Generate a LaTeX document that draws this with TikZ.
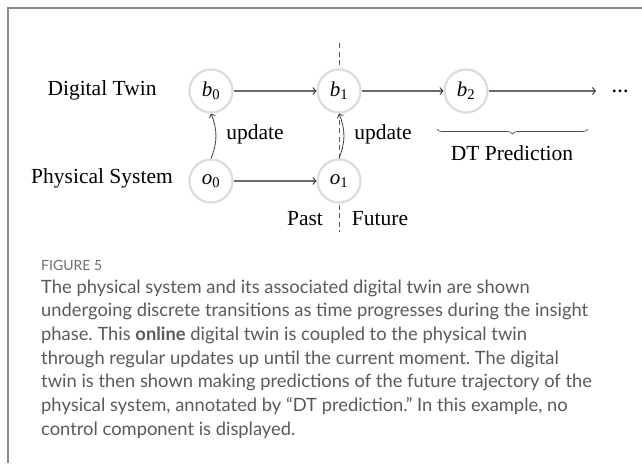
\documentclass[tikz,border=0pt]{standalone}
\usepackage{fontspec}
\setmainfont{Liberation Serif}
\newfontfamily\capfont{Lato}
\usetikzlibrary{arrows.meta,decorations.pathreplacing}
\frenchspacing

\definecolor{framegray}{HTML}{8A8A8A}
\definecolor{ringgray}{HTML}{DCDCDC}
\definecolor{edgegray}{HTML}{6A6A6A}
\definecolor{captext}{HTML}{5A5A5A}
\definecolor{caphead}{HTML}{6E6E6E}

\newcommand{\sv}[2]{\textit{#1}\textsubscript{#2}}

\tikzset{
  state/.style={circle, draw=ringgray, line width=2.2pt, fill=white,
    minimum size=43pt, inner sep=0pt, font=\fontsize{21}{24}\selectfont},
  lbl/.style={font=\fontsize{21.5}{25}\selectfont, text=black, inner sep=0pt},
  trans/.style={draw=edgegray, line width=1.1pt,
    -{Straight Barb[length=3pt,width=7pt,line width=0.9pt,color=black!80]}},
  upd/.style={draw=black!75, line width=0.8pt,
    -{Straight Barb[length=3pt,width=6.5pt]}},
  nowline/.style={draw=black!65, line width=0.7pt, dash pattern=on 5pt off 3.5pt},
  capline/.style={anchor=base west, inner sep=0pt, text=captext,
    font=\capfont\fontsize{18.35}{21}\selectfont},
}

\begin{document}
\begin{tikzpicture}[x=1pt, y=-1pt]
  \useasboundingbox (0,0) rectangle (642,463);

  % page frame: top and left rules
  \draw[framegray, line width=2pt] (7.5,463) -- (7.5,7.5) -- (642,7.5);

  % present-time divider, drawn first so the states cover it
  \coordinate (nowtop) at (339,43);
  \coordinate (nowbot) at (339,232);
  \draw[nowline] (nowtop) -- (nowbot);

  % row labels
  \node[lbl] (dtlabel) at (102,90) {Digital Twin};
  \node[lbl] (pslabel) at (102,178) {Physical System};

  % states
  \node[state] (b0) at (211,91)  {\sv{b}{0}};
  \node[state] (b1) at (339,91)  {\sv{b}{1}};
  \node[state] (b2) at (466,91)  {\sv{b}{2}};
  \node[state] (o0) at (211,181) {\sv{o}{0}};
  \node[state] (o1) at (339,181) {\sv{o}{1}};
  \node[inner sep=0pt, text=black, font=\bfseries\fontsize{17}{17}\selectfont] (dots) at (620,91) {…};
  \coordinate (predend) at (596,91);

  % transitions
  \draw[trans] (b0) -- (b1);
  \draw[trans] (b1) -- (b2);
  \draw[trans] (b2) -- (predend);
  \draw[trans] (o0) -- (o1);

  % updates from the physical system
  \draw[upd] (o0.north) to[bend right=22] (b0.south);
  \draw[upd] (o1.north) to[bend right=22] (b1.south);
  \node[lbl] (upd0) at (255,134) {update};
  \node[lbl] (upd1) at (383,134) {update};

  % prediction brace
  \coordinate (brl) at (437,129);
  \coordinate (brr) at (588,129);
  \draw[draw=black!70, line width=0.7pt, decorate,
        decoration={brace, mirror, amplitude=5pt}] (brl) -- (brr);
  \node[lbl] (dtpred) at (512,153) {DT Prediction};

  % time labels
  \node[lbl] (past) at (305,219) {Past};
  \node[lbl] (future) at (380,219) {Future};

  % caption
  \node[anchor=base west, inner sep=0pt, text=caphead,
        font=\capfont\fontsize{14}{15}\selectfont] (fighead) at (41,270) {FIGURE 5};
  \node[capline] (cap1) at (41,293.0) {The physical system and its associated digital twin are shown};
  \node[capline] (cap2) at (41,316.7) {undergoing discrete transitions as time progresses during the insight};
  \node[capline] (cap3) at (41,340.4) {phase. This \textbf{online} digital twin is coupled to the physical twin};
  \node[capline] (cap4) at (41,364.1) {through regular updates up until the current moment. The digital};
  \node[capline] (cap5) at (41,387.8) {twin is then shown making predictions of the future trajectory of the};
  \node[capline] (cap6) at (41,411.5) {physical system, annotated by “DT prediction.” In this example, no};
  \node[capline] (cap7) at (41,435.2) {control component is displayed.};
\end{tikzpicture}
\end{document}
